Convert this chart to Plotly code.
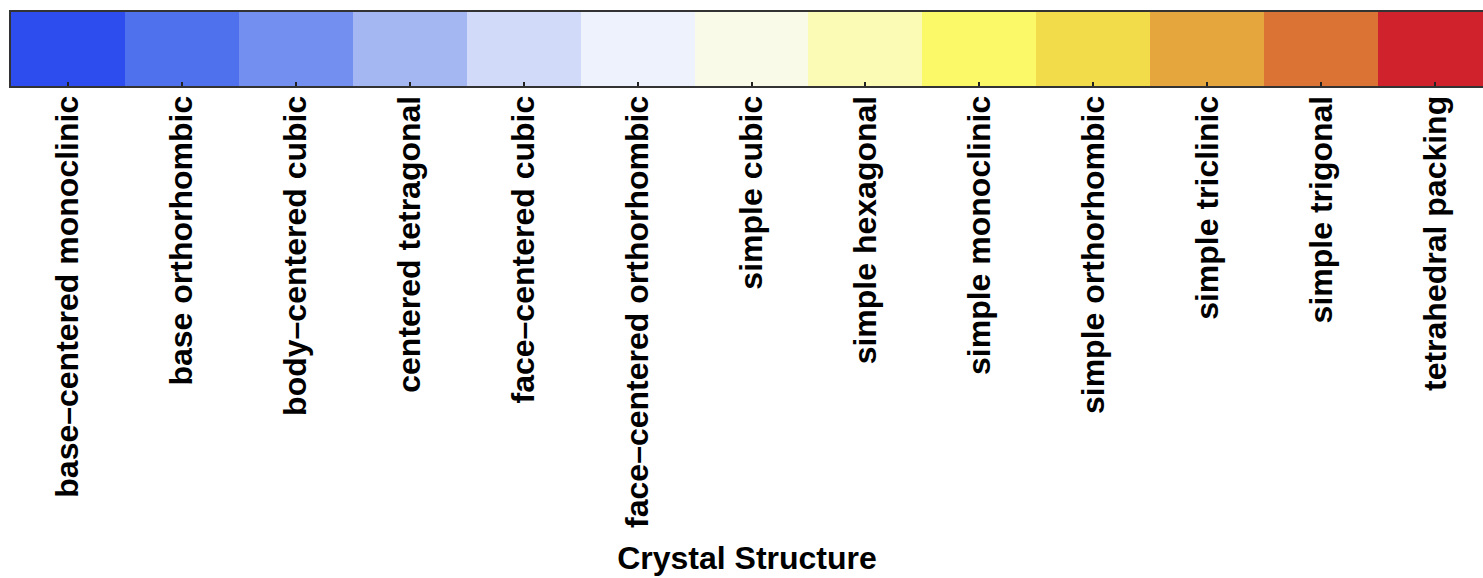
import plotly.graph_objects as go

# Crystal structure categories and their discrete colours
structures = [
    "base–centered monoclinic",
    "base orthorhombic",
    "body–centered cubic",
    "centered tetragonal",
    "face–centered cubic",
    "face–centered orthorhombic",
    "simple cubic",
    "simple hexagonal",
    "simple monoclinic",
    "simple orthorhombic",
    "simple triclinic",
    "simple trigonal",
    "tetrahedral packing",
]
colors = [
    "#2E4DEE", "#5071EE", "#738FEF", "#A5B7F3", "#D1DBF9", "#EEF2FD",
    "#F9FBE8", "#FCFBB6", "#FCF968", "#F2DC4A", "#E6A63E", "#DA7334",
    "#CF222D",
]
codes = list(range(len(structures)))

# Step colorscale: each integer code maps to one flat colour
n = len(colors)
colorscale = []
for i, c in enumerate(colors):
    colorscale.append([i / n, c])
    colorscale.append([(i + 1) / n, c])

fig = go.Figure(
    go.Heatmap(
        z=[codes],
        x=structures,
        y=[0],
        colorscale=colorscale,
        zmin=-0.5,
        zmax=n - 0.5,
        showscale=False,
        hoverinfo="x",
    )
)

font_family = "Liberation Sans, Arial, sans-serif"
label_font = dict(family=font_family, size=32, color="#000000", weight="bold")

fig.update_layout(
    width=1483,
    height=578,
    margin=dict(l=11, r=0, t=12, b=492),
    plot_bgcolor="white",
    paper_bgcolor="white",
    xaxis=dict(
        type="category",
        range=[-0.5, 12.42],
        ticks="inside",
        ticklen=4,
        tickwidth=1.5,
        tickcolor="#222222",
        tickangle=-90,
        tickfont=label_font,
        ticklabelstandoff=-5,
        showline=True,
        linecolor="#333333",
        linewidth=2,
        mirror=True,
        showgrid=False,
        zeroline=False,
        title=dict(
            text="Crystal Structure",
            font=dict(family=font_family, size=32, color="#000000", weight="bold"),
            standoff=20,
        ),
    ),
    yaxis=dict(
        range=[-0.5, 0.5],
        showticklabels=False,
        ticks="",
        showline=True,
        linecolor="#333333",
        linewidth=2,
        showgrid=False,
        zeroline=False,
    ),
)

fig.write_html("out.html")
